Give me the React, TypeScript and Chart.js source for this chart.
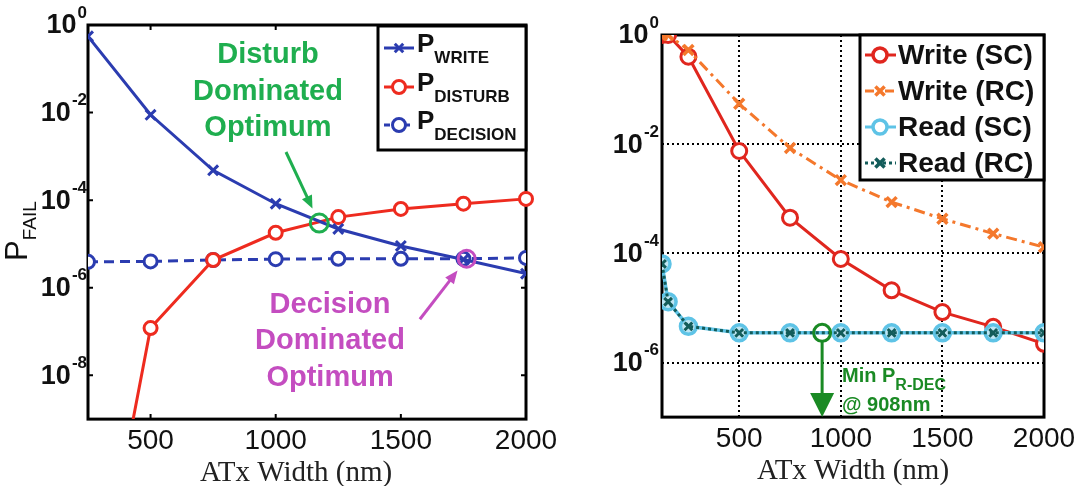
import React, { useEffect, useRef } from 'react';
import { Chart, registerables } from 'chart.js';

Chart.register(...registerables);

// ---------- Left panel data ----------
const leftWidths = [250, 500, 750, 1000, 1250, 1500, 1750, 2000];
const pWrite = [0.55, 8.9e-3, 4.8e-4, 8.3e-5, 2.2e-5, 9.0e-6, 4.4e-6, 2.1e-6];
const pDisturb = [4e-15, 1.2e-7, 4.3e-6, 1.8e-5, 4.1e-5, 6.3e-5, 8.3e-5, 1.07e-4];
const pDecision = [3.9e-6, 4.0e-6, 4.3e-6, 4.5e-6, 4.6e-6, 4.6e-6, 4.6e-6, 4.8e-6];
const disturbOptimum = [{ x: 1174, y: 3.0e-5 }];
const decisionOptimum = [{ x: 1763, y: 4.6e-6 }];
const leftXTicks = [500, 1000, 1500, 2000];
const leftYTicks = [1, 1e-2, 1e-4, 1e-6, 1e-8];
const leftYExp = ['0', '-2', '-4', '-6', '-8'];
const leftLegend = ['WRITE', 'DISTURB', 'DECISION'];
const disturbNote = ['Disturb', 'Dominated', 'Optimum'];
const decisionNote = ['Decision', 'Dominated', 'Optimum'];
// anchors (data units) for annotation text lines and arrow tails
const disturbNoteX = 969;
const disturbNoteY = [10 ** -0.685, 10 ** -1.53, 10 ** -2.35];
const disturbArrowTail = { x: 1041, y: 10 ** -2.9 };
const decisionNoteX = 1217;
const decisionNoteY = [10 ** -6.4, 10 ** -7.22, 10 ** -8.06];
const decisionArrowTail = { x: 1576, y: 10 ** -6.72 };

// ---------- Right panel data ----------
const rightWidths = [120, 150, 250, 500, 750, 1000, 1250, 1500, 1750, 2000];
const writeSC = [1, 1, 0.4, 7.5e-3, 4.5e-4, 7.9e-5, 2.1e-5, 8.4e-6, 4.5e-6, 2.2e-6];
const writeRC = [1, 1, 0.53, 5.5e-2, 8.5e-3, 2.2e-3, 8.7e-4, 4.3e-4, 2.3e-4, 1.3e-4];
const readSC = [6.4e-5, 1.3e-5, 4.6e-6, 3.5e-6, 3.5e-6, 3.5e-6, 3.5e-6, 3.5e-6, 3.5e-6, 3.5e-6];
const readRC = [6.4e-5, 1.3e-5, 4.6e-6, 3.5e-6, 3.5e-6, 3.5e-6, 3.5e-6, 3.5e-6, 3.5e-6, 3.5e-6];
const minReadDec = [{ x: 908, y: 3.5e-6 }];
const rightXTicks = [500, 1000, 1500, 2000];
const rightYTicks = [1, 1e-2, 1e-4, 1e-6];
const rightYExp = ['0', '-2', '-4', '-6'];
const rightLegend = ['Write (SC)', 'Write (RC)', 'Read (SC)', 'Read (RC)'];
const minNoteAnchor = { x: 1006, y1: 10 ** -6.23, y2: 10 ** -6.76 };

// ---------- colours ----------
const BLUE = '#2b3cb0';
const RED = '#ee2b1f';
const GREEN = '#1fae4f';
const MAGENTA = '#c44dc0';
const R_RED = '#e0261e';
const R_ORANGE = '#f4782c';
const R_LBLUE = '#5ec3e6';
const R_TEAL = '#135c5a';
const R_GREEN = '#1a8a24';

const SANS = '"Liberation Sans", Arial, sans-serif';
const SERIF = '"Liberation Serif", "Times New Roman", serif';

function drawMarker(ctx: CanvasRenderingContext2D, style: string, x: number, y: number, r: number, color: string, bw: number) {
  ctx.save();
  ctx.setLineDash([]);
  ctx.lineWidth = bw;
  ctx.strokeStyle = color;
  if (style === 'circle') {
    ctx.beginPath();
    ctx.arc(x, y, r, 0, Math.PI * 2);
    ctx.fillStyle = '#fff';
    ctx.fill();
    ctx.stroke();
  } else {
    const d = r * 0.7071;
    ctx.beginPath();
    ctx.moveTo(x - d, y - d);
    ctx.lineTo(x + d, y + d);
    ctx.moveTo(x + d, y - d);
    ctx.lineTo(x - d, y + d);
    ctx.stroke();
  }
  ctx.restore();
}

function drawArrow(ctx: CanvasRenderingContext2D, x1: number, y1: number, x2: number, y2: number, color: string, w: number, hl: number, hw: number) {
  const dx = x2 - x1, dy = y2 - y1;
  const len = Math.hypot(dx, dy);
  const ux = dx / len, uy = dy / len;
  const bx = x2 - ux * hl, by = y2 - uy * hl;
  ctx.save();
  ctx.setLineDash([]);
  ctx.strokeStyle = color;
  ctx.fillStyle = color;
  ctx.lineWidth = w;
  ctx.beginPath();
  ctx.moveTo(x1, y1);
  ctx.lineTo(bx + ux * 1, by + uy * 1);
  ctx.stroke();
  ctx.beginPath();
  ctx.moveTo(x2, y2);
  ctx.lineTo(bx - uy * hw / 2, by + ux * hw / 2);
  ctx.lineTo(bx + uy * hw / 2, by - ux * hw / 2);
  ctx.closePath();
  ctx.fill();
  ctx.restore();
}

function drawPow(ctx: CanvasRenderingContext2D, xRight: number, y: number, exp: string) {
  ctx.save();
  ctx.fillStyle = '#111';
  ctx.textBaseline = 'middle';
  const baseFont = `bold 27px ${SANS}`;
  const expFont = `bold 17px ${SANS}`;
  ctx.font = expFont;
  const ew = ctx.measureText(exp).width;
  ctx.font = baseFont;
  ctx.textAlign = 'right';
  ctx.fillText('10', xRight - ew - 1, y + 1);
  ctx.font = expFont;
  ctx.textAlign = 'left';
  ctx.fillText(exp, xRight - ew, y - 12);
  ctx.restore();
}

function drawYTitle(ctx: CanvasRenderingContext2D, baseX: number, cy: number) {
  ctx.save();
  ctx.translate(baseX, cy);
  ctx.rotate(-Math.PI / 2);
  ctx.fillStyle = '#111';
  ctx.textBaseline = 'alphabetic';
  ctx.font = `31px ${SANS}`;
  const wp = ctx.measureText('P').width;
  ctx.font = `19px ${SANS}`;
  const ws = ctx.measureText('FAIL').width;
  const x0 = -(wp + ws) / 2;
  ctx.font = `31px ${SANS}`;
  ctx.textAlign = 'left';
  ctx.fillText('P', x0, 0);
  ctx.font = `19px ${SANS}`;
  ctx.fillText('FAIL', x0 + wp, 9);
  ctx.restore();
}

function drawBox(chart: any) {
  const { ctx, chartArea: a } = chart;
  ctx.save();
  ctx.strokeStyle = '#000';
  ctx.lineWidth = 3;
  ctx.setLineDash([]);
  ctx.strokeRect(a.left, a.top, a.right - a.left, a.bottom - a.top);
  ctx.restore();
}

const leftPlugin = {
  id: 'leftDeco',
  beforeDatasetsDraw(chart: any) {
    const { ctx, chartArea: a, scales } = chart;
    drawBox(chart);
    ctx.save();
    ctx.strokeStyle = '#000';
    ctx.lineWidth = 2;
    leftXTicks.slice(0, 3).forEach((v) => {
      const px = scales.x.getPixelForValue(v);
      ctx.beginPath();
      ctx.moveTo(px, a.bottom); ctx.lineTo(px, a.bottom - 5);
      ctx.moveTo(px, a.top); ctx.lineTo(px, a.top + 5);
      ctx.stroke();
    });
    leftYTicks.slice(1).forEach((v) => {
      const py = scales.y.getPixelForValue(v);
      ctx.beginPath();
      ctx.moveTo(a.left, py); ctx.lineTo(a.left + 5, py);
      ctx.moveTo(a.right, py); ctx.lineTo(a.right - 5, py);
      ctx.stroke();
    });
    ctx.restore();
  },
  afterDatasetsDraw(chart: any) {
    const { ctx, chartArea: a, scales } = chart;
    const xs = scales.x, ys = scales.y;
    // y tick labels
    leftYTicks.forEach((v, i) => drawPow(ctx, a.left - 1, ys.getPixelForValue(v), leftYExp[i]));
    drawYTitle(ctx, 27, 231);
    // legend
    ctx.save();
    const lx = a.right - 148, ly = a.top + 1, lw = 148, lh = 124;
    ctx.fillStyle = '#fff';
    ctx.fillRect(lx, ly, lw, lh);
    ctx.strokeStyle = '#000';
    ctx.lineWidth = 3;
    ctx.strokeRect(lx, ly, lw, lh);
    const rows = [ly + 22, ly + 61, ly + 99];
    const styles = [
      { c: BLUE, m: 'cross', dash: [] as number[] },
      { c: RED, m: 'circle', dash: [] as number[] },
      { c: BLUE, m: 'circle', dash: [6, 4] },
    ];
    rows.forEach((ry, i) => {
      const s = styles[i];
      ctx.save();
      ctx.strokeStyle = s.c;
      ctx.lineWidth = 3;
      ctx.setLineDash(s.dash);
      ctx.beginPath();
      ctx.moveTo(lx + 6, ry);
      ctx.lineTo(lx + 36, ry);
      ctx.stroke();
      ctx.restore();
      drawMarker(ctx, s.m, lx + 21, ry, s.m === 'circle' ? 6.5 : 6, s.c, 3);
      ctx.fillStyle = '#111';
      ctx.textAlign = 'left';
      ctx.textBaseline = 'alphabetic';
      ctx.font = `bold 26px ${SANS}`;
      ctx.fillText('P', lx + 39, ry + 4);
      const wp = ctx.measureText('P').width;
      ctx.font = `bold 17px ${SANS}`;
      ctx.fillText(leftLegend[i], lx + 39 + wp, ry + 15);
    });
    ctx.restore();
    // annotations
    ctx.save();
    ctx.textAlign = 'center';
    ctx.textBaseline = 'middle';
    ctx.font = `bold 29px ${SANS}`;
    ctx.fillStyle = GREEN;
    disturbNote.forEach((t, i) => ctx.fillText(t, xs.getPixelForValue(disturbNoteX), ys.getPixelForValue(disturbNoteY[i])));
    ctx.fillStyle = MAGENTA;
    decisionNote.forEach((t, i) => ctx.fillText(t, xs.getPixelForValue(decisionNoteX), ys.getPixelForValue(decisionNoteY[i])));
    ctx.restore();
    const arrowTo = (tail: any, target: any, gap: number, color: string) => {
      const tx = xs.getPixelForValue(tail.x), ty = ys.getPixelForValue(tail.y);
      const cx = xs.getPixelForValue(target.x), cy = ys.getPixelForValue(target.y);
      const d = Math.hypot(cx - tx, cy - ty);
      const ex = cx - (cx - tx) / d * gap, ey = cy - (cy - ty) / d * gap;
      drawArrow(ctx, tx, ty, ex, ey, color, 3, 13, 11);
    };
    arrowTo(disturbArrowTail, disturbOptimum[0], 16, GREEN);
    arrowTo(decisionArrowTail, decisionOptimum[0], 15, MAGENTA);
  },
};

const rightPlugin = {
  id: 'rightDeco',
  beforeDatasetsDraw(chart: any) {
    drawBox(chart);
  },
  afterDatasetsDraw(chart: any) {
    const { ctx, chartArea: a, scales } = chart;
    const xs = scales.x, ys = scales.y;
    rightYTicks.forEach((v, i) => drawPow(ctx, a.left - 3, ys.getPixelForValue(v), rightYExp[i]));
    drawYTitle(ctx, 598, 222);
    // legend
    ctx.save();
    const lx = a.left + 198, ly = a.top, lw = a.right - (a.left + 198), lh = 145;
    ctx.fillStyle = '#fff';
    ctx.fillRect(lx, ly, lw, lh);
    ctx.strokeStyle = '#000';
    ctx.lineWidth = 3;
    ctx.strokeRect(lx, ly, lw, lh);
    const styles = [
      { c: R_RED, m: 'circle', dash: [] as number[] },
      { c: R_ORANGE, m: 'cross', dash: [9, 4, 3, 4] },
      { c: R_LBLUE, m: 'circle', dash: [] as number[] },
      { c: R_TEAL, m: 'cross', dash: [3, 3] },
    ];
    styles.forEach((s, i) => {
      const ry = ly + 20 + i * 36;
      ctx.save();
      ctx.strokeStyle = s.c;
      ctx.lineWidth = 3;
      ctx.setLineDash(s.dash);
      ctx.beginPath();
      ctx.moveTo(lx + 5, ry);
      ctx.lineTo(lx + 36, ry);
      ctx.stroke();
      ctx.restore();
      drawMarker(ctx, s.m, lx + 20, ry, s.m === 'circle' ? 7 : 6.5, s.c, 3.5);
      ctx.fillStyle = '#111';
      ctx.textAlign = 'left';
      ctx.textBaseline = 'middle';
      ctx.font = `bold 28px ${SANS}`;
      ctx.fillText(rightLegend[i], lx + 38, ry + 1);
    });
    ctx.restore();
    // min read decision annotation
    const cx = xs.getPixelForValue(minReadDec[0].x);
    const cy = ys.getPixelForValue(minReadDec[0].y);
    drawArrow(ctx, cx, cy + 9, cx, a.bottom, R_GREEN, 3, 24, 24);
    ctx.save();
    ctx.fillStyle = R_GREEN;
    ctx.textAlign = 'left';
    ctx.textBaseline = 'alphabetic';
    const nx = xs.getPixelForValue(minNoteAnchor.x);
    const y1 = ys.getPixelForValue(minNoteAnchor.y1);
    const y2 = ys.getPixelForValue(minNoteAnchor.y2);
    ctx.font = `bold 20px ${SANS}`;
    ctx.fillText('Min P', nx, y1 + 7);
    const w = ctx.measureText('Min P').width;
    ctx.font = `bold 16px ${SANS}`;
    ctx.fillText('R-DEC', nx + w, y1 + 15);
    ctx.font = `bold 20px ${SANS}`;
    ctx.fillText('@ 908nm', nx, y2 + 7);
    ctx.restore();
  },
};

function xAxis(min: number, ticks: number[], grid: boolean, titleText: string) {
  return {
    type: 'linear' as const,
    min,
    max: 2000,
    afterBuildTicks: (s: any) => { s.ticks = ticks.map((v) => ({ value: v })); },
    grid: { display: grid, drawTicks: false, color: '#000', lineWidth: 2 },
    border: { display: false, dash: [2, 3] },
    ticks: {
      font: { family: SANS, size: 28, lineHeight: 1 },
      color: '#111',
      padding: 8,
      maxRotation: 0,
      autoSkip: false,
      callback: (v: any) => String(v),
    },
    title: {
      display: true,
      text: titleText,
      font: { family: SERIF, size: 29, lineHeight: 0.72 },
      color: '#222',
      padding: { top: 0, bottom: 0 },
    },
  };
}

function yAxis(min: number, ticks: number[], grid: boolean) {
  return {
    type: 'logarithmic' as const,
    min,
    max: 1,
    afterBuildTicks: (s: any) => { s.ticks = ticks.map((v) => ({ value: v })); },
    grid: { display: grid, drawTicks: false, color: '#000', lineWidth: 2 },
    border: { display: false, dash: [2, 3] },
    ticks: { display: false },
  };
}

function LeftChart() {
  const ref = useRef<HTMLCanvasElement>(null);
  useEffect(() => {
    if (!ref.current) return;
    const toXY = (ys: number[]) => leftWidths.map((x, i) => ({ x, y: ys[i] }));
    const chart = new Chart(ref.current, {
      type: 'line',
      data: {
        datasets: [
          { label: 'Disturb optimum', data: disturbOptimum, showLine: false, pointStyle: 'circle', pointRadius: 9, borderWidth: 3, pointBorderWidth: 3, borderColor: GREEN, pointBorderColor: GREEN, pointBackgroundColor: 'rgba(0,0,0,0)', order: 0 },
          { label: 'Decision optimum', data: decisionOptimum, showLine: false, pointStyle: 'circle', pointRadius: 8.5, borderWidth: 3, pointBorderWidth: 3, borderColor: MAGENTA, pointBorderColor: MAGENTA, pointBackgroundColor: 'rgba(0,0,0,0)', order: 1 },
          { label: 'P_WRITE', data: toXY(pWrite), borderColor: BLUE, pointBorderColor: BLUE, borderWidth: 3, pointStyle: 'crossRot', pointRadius: 7, pointBorderWidth: 3, order: 2 },
          { label: 'P_DISTURB', data: toXY(pDisturb), borderColor: RED, pointBorderColor: RED, pointBackgroundColor: '#fff', borderWidth: 3, pointStyle: 'circle', pointRadius: 6.5, pointBorderWidth: 3, order: 3, clip: { left: 14, top: 14, right: 14, bottom: 0 } },
          { label: 'P_DECISION', data: toXY(pDecision), borderColor: BLUE, pointBorderColor: BLUE, pointBackgroundColor: '#fff', borderWidth: 3, borderDash: [10, 6], pointStyle: 'circle', pointRadius: 6.5, pointBorderWidth: 3, order: 4 },
        ] as any,
      },
      options: {
        animation: false,
        responsive: true,
        maintainAspectRatio: false,
        layout: { padding: { left: 88, top: 25, right: 40, bottom: 2 } },
        plugins: { legend: { display: false }, tooltip: { enabled: false } },
        elements: { line: { tension: 0 } },
        scales: { x: xAxis(250, leftXTicks, false, 'ATx Width (nm)   '), y: yAxis(1e-9, leftYTicks, false) } as any,
      },
      plugins: [leftPlugin],
    });
    return () => chart.destroy();
  }, []);
  return <canvas ref={ref} />;
}

function RightChart() {
  const ref = useRef<HTMLCanvasElement>(null);
  useEffect(() => {
    if (!ref.current) return;
    const toXY = (ys: number[]) => rightWidths.map((x, i) => ({ x, y: ys[i] }));
    const chart = new Chart(ref.current, {
      type: 'line',
      data: {
        datasets: [
          { label: 'Min P R-DEC', data: minReadDec, showLine: false, pointStyle: 'circle', pointRadius: 8.5, pointBorderWidth: 3, borderColor: R_GREEN, pointBorderColor: R_GREEN, pointBackgroundColor: 'rgba(0,0,0,0)', order: 0 },
          { label: 'Read (RC)', data: toXY(readRC), borderColor: R_TEAL, pointBorderColor: R_TEAL, borderWidth: 3, borderDash: [3, 3], pointStyle: 'crossRot', pointRadius: 5.5, pointBorderWidth: 3, order: 1 },
          { label: 'Read (SC)', data: toXY(readSC), borderColor: R_LBLUE, pointBorderColor: R_LBLUE, pointBackgroundColor: '#bfe6f4', borderWidth: 3.5, pointStyle: 'circle', pointRadius: 8, pointBorderWidth: 3.5, order: 2 },
          { label: 'Write (RC)', data: toXY(writeRC), borderColor: R_ORANGE, pointBorderColor: R_ORANGE, borderWidth: 3, borderDash: [11, 5, 3, 5], pointStyle: 'crossRot', pointRadius: 7, pointBorderWidth: 3.5, order: 3 },
          { label: 'Write (SC)', data: toXY(writeSC), borderColor: R_RED, pointBorderColor: R_RED, pointBackgroundColor: '#fff', borderWidth: 3, pointStyle: 'circle', pointRadius: 7.5, pointBorderWidth: 3, order: 4 },
        ] as any,
      },
      options: {
        animation: false,
        responsive: true,
        maintainAspectRatio: false,
        layout: { padding: { left: 102, top: 35, right: 44, bottom: 4 } },
        plugins: { legend: { display: false }, tooltip: { enabled: false } },
        elements: { line: { tension: 0 } },
        scales: { x: xAxis(120, rightXTicks, true, 'ATx Width (nm)'), y: yAxis(1e-7, rightYTicks, true) } as any,
      },
      plugins: [rightPlugin],
    });
    return () => chart.destroy();
  }, []);
  return <canvas ref={ref} />;
}

export default function App() {
  return (
    <div style={{ position: 'fixed', left: 0, top: 0, width: 1088, height: 486, background: '#fff' }}>
      <div style={{ position: 'absolute', left: 0, top: 0, width: 566, height: 486 }}>
        <LeftChart />
      </div>
      <div style={{ position: 'absolute', left: 560, top: 0, width: 528, height: 486 }}>
        <RightChart />
      </div>
    </div>
  );
}
